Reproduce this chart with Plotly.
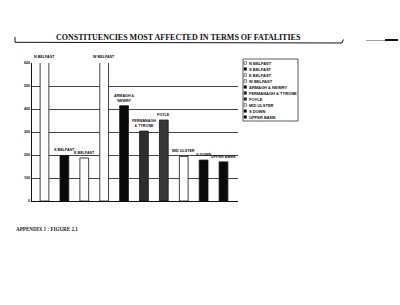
import plotly.graph_objects as go

categories = ["N BELFAST", "S BELFAST", "E BELFAST", "W BELFAST", "ARMAGH & NEWRY",
              "FERMANAGH & TYRONE", "FOYLE", "MID ULSTER", "S DOWN", "UPPER BANN"]
bar_labels = ["N BELFAST", "S BELFAST", "E BELFAST", "W BELFAST", "ARMAGH &<br>NEWRY",
              "FERMANAGH<br>& TYRONE", "FOYLE", "MID ULSTER", "S DOWN", "UPPER BANN"]
fatalities = [720, 198, 187, 650, 414, 304, 352, 194, 178, 170]
bar_colors = ["#ffffff", "#0a0a0a", "#ffffff", "#ffffff", "#0a0a0a",
              "#2e2e2e", "#383838", "#ffffff", "#0a0a0a", "#0a0a0a"]
y_ticks = [0, 100, 200, 300, 400, 500, 600]
y_max = 600

# plot area in pixels (for placing decorations in paper coords)
L, R, T, B = 32, 238, 63, 201
def px(x):
    return (x - L) / (R - L)
def py(y):
    return (B - y) / (B - T)

fig = go.Figure()
fig.add_trace(go.Bar(
    x=categories, y=fatalities,
    marker=dict(color=bar_colors, line=dict(color="#111111", width=0.8)),
    showlegend=False, hoverinfo="skip",
))

# labels above bars
for c, lab, v in zip(categories, bar_labels, fatalities):
    fig.add_annotation(x=c, y=min(v, y_max), text="<b>" + lab + "</b>", showarrow=False,
                       yanchor="bottom", yshift=1 if v < y_max else 2,
                       font=dict(family="Liberation Sans", size=3.7, color="#111"))

# manual legend
fig.add_shape(type="rect", xref="paper", yref="paper", x0=px(243), x1=px(298),
              y0=py(121), y1=py(59), line=dict(color="#333", width=0.8), fillcolor="white")
for i, (c, col) in enumerate(zip(categories, bar_colors)):
    yc = 63 + 6 * i
    fig.add_shape(type="rect", xref="paper", yref="paper",
                  x0=px(244), x1=px(246.5), y0=py(yc + 1.3), y1=py(yc - 1.3),
                  fillcolor=col, line=dict(color="#111", width=0.5))
    fig.add_annotation(xref="paper", yref="paper", x=px(247), y=py(yc),
                       text="<b>" + c + "</b>", showarrow=False, xanchor="left", yanchor="middle",
                       font=dict(family="Liberation Sans", size=4.0, color="#111"))

# title with bracket line
fig.add_annotation(xref="paper", yref="paper", x=px(178.5), y=py(37), xanchor="center", yanchor="middle",
                   text="<b>CONSTITUENCIES MOST AFFECTED IN TERMS OF FATALITIES</b>",
                   showarrow=False, font=dict(family="Liberation Serif", size=8, color="#111"))
fig.add_shape(type="path", xref="paper", yref="paper",
              path="M %f %f L %f %f L %f %f L %f %f" % (px(15), py(37), px(15), py(42.3),
                                                        px(342), py(43), px(343.5), py(39.5)),
              line=dict(color="#111", width=1))
fig.add_shape(type="line", xref="paper", yref="paper", x0=px(366), x1=px(385), y0=py(40.5), y1=py(40.5),
              line=dict(color="#777", width=0.7))
fig.add_shape(type="line", xref="paper", yref="paper", x0=px(385), x1=px(398), y0=py(40), y1=py(40),
              line=dict(color="#111", width=2))

# footer
fig.add_annotation(xref="paper", yref="paper", x=px(14), y=py(228.5), xanchor="left", yanchor="middle",
                   text="<b>APPENDIX 1 : FIGURE 2.1</b>", showarrow=False,
                   font=dict(family="Liberation Serif", size=5.1, color="#222"))

fig.update_layout(
    width=400, height=305,
    margin=dict(l=L, r=400 - R, t=T, b=305 - B),
    paper_bgcolor="white", plot_bgcolor="white",
    bargap=0.56,
    xaxis=dict(showticklabels=False, showgrid=False, showline=True, linecolor="#111", linewidth=1,
               zeroline=False, ticks=""),
    yaxis=dict(range=[0, y_max], tickvals=y_ticks, ticktext=["<b>%d</b>" % t for t in y_ticks],
               showgrid=True, gridcolor="#444", gridwidth=0.8, showline=True, linecolor="#111",
               linewidth=1, zeroline=False, ticks="",
               tickfont=dict(family="Liberation Sans", size=3.8, color="#111")),
)
fig.write_html("out.html")
